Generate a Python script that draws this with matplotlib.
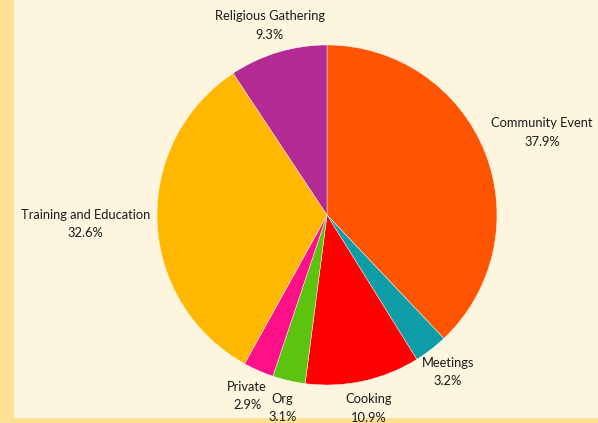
import numpy as np
import matplotlib
matplotlib.use("Agg")
import matplotlib.pyplot as plt
from matplotlib.patches import Rectangle

# data
categories = ["Community Event", "Meetings", "Cooking", "Org", "Private",
              "Training and Education", "Religious Gathering"]
shares = [37.9, 3.2, 10.9, 3.1, 2.9, 32.6, 9.3]
colors = ["#FF5500", "#0E9CA7", "#FF0000", "#5CC40F", "#FF1088",
          "#FFB700", "#B42A93"]

W, H = 598, 423
fig = plt.figure(figsize=(W / 100, H / 100), dpi=100, facecolor="#FFE195")
ax = fig.add_axes([0, 0, 1, 1])
ax.set_facecolor("none")

cx, cy, r = 327, 208, 170
wedges, _ = ax.pie(shares, colors=colors, startangle=90, counterclock=False,
                   center=(cx, cy), radius=r, frame=True,
                   wedgeprops=dict(edgecolor="white", linewidth=0.3))

# inner panel, behind the wedges
ax.add_patch(Rectangle((14, 5), W, H, facecolor="#FEF5DF", edgecolor="none",
                       zorder=0))

# labels: name over percentage
total = sum(shares)
start = 90.0
for name, val in zip(categories, shares):
    sweep = 360.0 * val / total
    mid = np.deg2rad(start - sweep / 2)
    start -= sweep
    c, s = np.cos(mid), np.sin(mid)
    if abs(c) > 0.8:
        d = 1.04 * r
        ha = "left" if c > 0 else "right"
        x, y = cx + d * c, cy + d * s
        if s > 0.2:
            y += 17
        else:
            y -= 2
    else:
        d = 1.165 * r
        ha = "center"
        x, y = cx + d * c, cy + d * s
    ax.text(x, y, f"{name}\n{val:.1f}%", ha=ha, va="center", ma="center",
            fontsize=9.3, family=["Lato", "DejaVu Sans"], color="#1a1a1a",
            linespacing=1.65)

ax.set_xlim(0, W)
ax.set_ylim(0, H)
ax.set_aspect("equal")
ax.axis("off")

fig.savefig("out.png", dpi=100, facecolor=fig.get_facecolor())
